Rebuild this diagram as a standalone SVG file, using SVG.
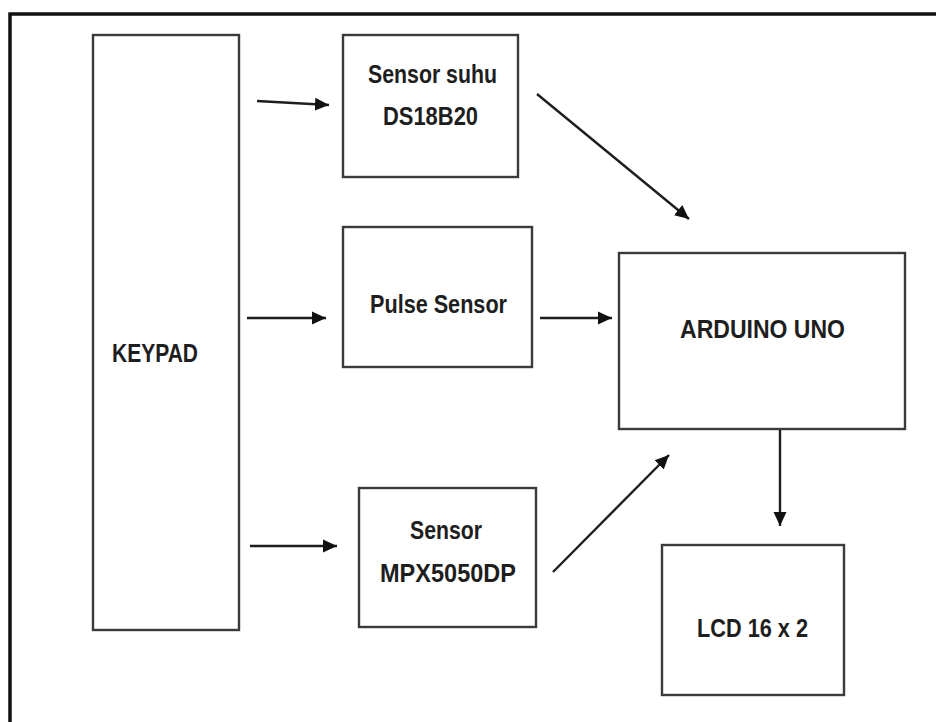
<svg xmlns="http://www.w3.org/2000/svg" width="936" height="722" viewBox="0 0 936 722">
<defs>
<style>
.box{fill:#fff;stroke:#3a3a3a;stroke-width:2.4}
.lbl{font-family:"Liberation Sans",Arial,sans-serif;font-weight:bold;font-size:26px;fill:#1e1e1e}
.conn{stroke:#1e1e1e;stroke-width:2.4;fill:none;marker-end:url(#ah)}
</style>
<marker id="ah" markerUnits="userSpaceOnUse" markerWidth="16" markerHeight="16" viewBox="0 0 16 16" refX="14" refY="8" orient="auto">
<path d="M0,1.5 L14,8 L0,14.5 Z" fill="#111"/>
</marker>
</defs>
<rect x="0" y="0" width="936" height="722" fill="#fff"/>
<path d="M10,722 L10,14 L936,14" fill="none" stroke="#111" stroke-width="3.5"/>
<g id="keypad">
<rect class="box" x="93" y="35" width="146" height="595"/>
<text class="lbl" x="112" y="362" textLength="86" lengthAdjust="spacingAndGlyphs">KEYPAD</text>
</g>
<g id="sensor-suhu">
<rect class="box" x="343" y="35" width="175" height="142"/>
<text class="lbl" x="368" y="83" textLength="129" lengthAdjust="spacingAndGlyphs">Sensor suhu</text>
<text class="lbl" x="383" y="125" textLength="95" lengthAdjust="spacingAndGlyphs">DS18B20</text>
</g>
<g id="pulse-sensor">
<rect class="box" x="343" y="227" width="189" height="140"/>
<text class="lbl" x="370" y="313" textLength="137" lengthAdjust="spacingAndGlyphs">Pulse Sensor</text>
</g>
<g id="sensor-mpx">
<rect class="box" x="359" y="488" width="177" height="139"/>
<text class="lbl" x="410" y="539" textLength="72" lengthAdjust="spacingAndGlyphs">Sensor</text>
<text class="lbl" x="380" y="582" textLength="136" lengthAdjust="spacingAndGlyphs">MPX5050DP</text>
</g>
<g id="arduino">
<rect class="box" x="619" y="253" width="286" height="176"/>
<text class="lbl" x="680" y="338" textLength="165" lengthAdjust="spacingAndGlyphs">ARDUINO UNO</text>
</g>
<g id="lcd">
<rect class="box" x="662" y="545" width="182" height="150"/>
<text class="lbl" x="697" y="637" textLength="111" lengthAdjust="spacingAndGlyphs">LCD 16 x 2</text>
</g>
<g id="connectors">
<line class="conn" x1="257" y1="101" x2="329" y2="105"/>
<line class="conn" x1="247" y1="318" x2="326" y2="318"/>
<line class="conn" x1="250" y1="546" x2="337" y2="546"/>
<line class="conn" x1="537" y1="94" x2="689" y2="219"/>
<line class="conn" x1="540" y1="318" x2="612" y2="318"/>
<line class="conn" x1="553" y1="572" x2="669" y2="455"/>
<line class="conn" x1="780" y1="430" x2="780" y2="526"/>
</g>
</svg>
